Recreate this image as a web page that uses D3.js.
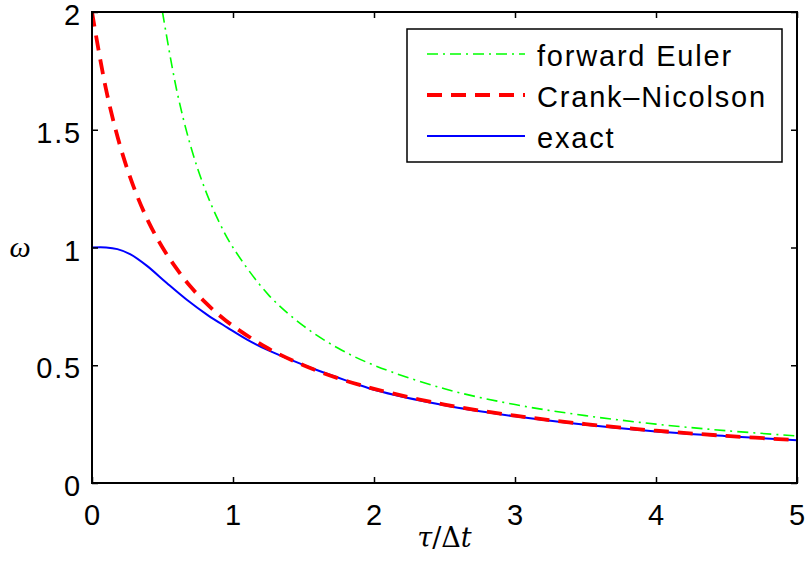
<!DOCTYPE html>
<html lang="en">

<head>
    <meta charset="UTF-8">
    <title>omega vs tau</title>
    <style>
        body { margin: 0; background: #fff; }
        svg { display: block; }
    </style>
</head>

<body>
    <script type='text/javascript' src='https://d3js.org/d3.v7.min.js'></script>
    <script>
        // values
        var tauEuler = [0.5, 0.6, 0.7, 0.8, 0.9, 1, 1.25, 1.5, 1.75, 2, 2.5, 3, 3.5, 4, 4.5, 5];
        var omegaEuler = [2, 1.67, 1.43, 1.25, 1.11, 1, 0.8, 0.667, 0.571, 0.5, 0.4, 0.333, 0.286, 0.25, 0.222, 0.2];

        var tauCN = [0, 0.1, 0.2, 0.3, 0.4, 0.5, 0.6, 0.7, 0.8, 0.9, 1, 1.25, 1.5, 1.75, 2, 2.5, 3, 3.5, 4, 4.5, 5];
        var omegaCN = [2, 1.67, 1.43, 1.25, 1.11, 1, 0.91, 0.833, 0.769, 0.714, 0.667, 0.571, 0.5, 0.444, 0.4, 0.333, 0.286, 0.25, 0.222, 0.2, 0.182];

        var tauExact = [0, 0.1, 0.18, 0.27, 0.39, 0.53, 0.67, 0.82, 0.96, 1.1, 1.24, 1.38, 1.57, 1.8, 2, 2.5, 3, 3.5, 4, 4.5, 5];
        var omegaExact = [1, 1, 0.993, 0.972, 0.922, 0.849, 0.779, 0.713, 0.66, 0.609, 0.566, 0.53, 0.485, 0.436, 0.396, 0.33, 0.283, 0.247, 0.219, 0.199, 0.182];

        var xTicks = [0, 1, 2, 3, 4, 5];
        var yTicks = [0, 0.5, 1, 1.5, 2];
        var yTickLabels = ["0", "0.5", "1", "1.5", "2"];

        var legendNames = ["forward Euler", "Crank\u2013Nicolson", "exact"];
        var legendColors = ["#00ff00", "#ff0000", "#0000ff"];
        var legendDash = ["11,5,2,5", "15,9", null];
        var legendWidth = [1.6, 3.8, 2];

        const W = 808, H = 573;
        const pLeft = 92, pRight = 797, pTop = 12, pBottom = 483;

        const svg = d3.select("body").append("svg")
            .attr("width", W)
            .attr("height", H);

        var x = d3.scaleLinear().domain([0, 5]).range([pLeft, pRight]);
        var y = d3.scaleLinear().domain([0, 2]).range([pBottom, pTop]);

        svg.append("clipPath").attr("id", "plot")
            .append("rect")
            .attr("x", pLeft).attr("y", pTop - 2)
            .attr("width", pRight - pLeft).attr("height", pBottom - pTop + 2);

        var line = d3.line()
            .x(function(d) { return x(d[0]); })
            .y(function(d) { return y(d[1]); })
            .curve(d3.curveCatmullRom.alpha(0.5));

        var series = [
            d3.zip(tauEuler, omegaEuler),
            d3.zip(tauCN, omegaCN),
            d3.zip(tauExact, omegaExact)
        ];

        // blue goes underneath the red dashes
        var order = [2, 0, 1];
        var g = svg.append("g").attr("clip-path", "url(#plot)");
        order.forEach(function(i) {
            g.append("path")
                .datum(series[i])
                .attr("fill", "none")
                .attr("stroke", legendColors[i])
                .attr("stroke-width", legendWidth[i])
                .attr("stroke-dasharray", legendDash[i])
                .attr("d", line);
        });

        // box + inward ticks on all sides
        var tickLen = 6;
        var axisFont = "'Liberation Sans', Arial, Helvetica, sans-serif";

        svg.append("g").attr("transform", "translate(0," + pBottom + ")")
            .call(d3.axisBottom(x).tickValues(xTicks).tickSize(-tickLen).tickFormat(""));
        svg.append("g").attr("transform", "translate(0," + pTop + ")")
            .call(d3.axisTop(x).tickValues(xTicks).tickSize(-tickLen).tickFormat(""));
        svg.append("g").attr("transform", "translate(" + pLeft + ",0)")
            .call(d3.axisLeft(y).tickValues(yTicks).tickSize(-tickLen).tickFormat(""));
        svg.append("g").attr("transform", "translate(" + pRight + ",0)")
            .call(d3.axisRight(y).tickValues(yTicks).tickSize(-tickLen).tickFormat(""));

        svg.selectAll(".domain").remove();
        svg.selectAll(".tick line").attr("stroke", "#000").attr("stroke-width", 1.5);

        svg.append("rect")
            .attr("x", pLeft).attr("y", pTop)
            .attr("width", pRight - pLeft).attr("height", pBottom - pTop)
            .attr("fill", "none")
            .attr("stroke", "#000")
            .attr("stroke-width", 2);

        // tick labels
        svg.selectAll(".xlab").data(xTicks).enter()
            .append("text")
            .attr("x", function(d) { return x(d) + 1; })
            .attr("y", 525)
            .attr("text-anchor", "middle")
            .style("font-family", axisFont)
            .style("font-size", "29px")
            .style("letter-spacing", "1.8px")
            .text(function(d) { return d; });

        svg.selectAll(".ylab").data(yTicks).enter()
            .append("text")
            .attr("x", 82)
            .attr("y", function(d) { return y(d) + 13; })
            .attr("text-anchor", "end")
            .style("font-family", axisFont)
            .style("font-size", "29px")
            .style("letter-spacing", "1.8px")
            .text(function(d, i) { return yTickLabels[i]; });

        // axis titles
        var xt = svg.append("text")
            .attr("x", (pLeft + pRight) / 2)
            .attr("y", 547)
            .attr("text-anchor", "middle")
            .style("font-family", "'DejaVu Serif', serif")
            .style("font-size", "27px");
        xt.append("tspan").style("font-style", "italic").text("\u03c4");
        xt.append("tspan").text("/\u0394");
        xt.append("tspan").style("font-style", "italic").text("t");

        svg.append("text")
            .attr("x", 20)
            .attr("y", 257)
            .attr("text-anchor", "middle")
            .style("font-family", "'Liberation Serif', serif")
            .style("font-style", "italic")
            .style("font-size", "30px")
            .text("\u03c9");

        // legend
        var lg = svg.append("g");
        lg.append("rect")
            .attr("x", 407).attr("y", 29)
            .attr("width", 375).attr("height", 133)
            .attr("fill", "#fff")
            .attr("stroke", "#000")
            .attr("stroke-width", 1.5);

        var rowY = [54, 95, 136];
        legendNames.forEach(function(name, i) {
            lg.append("line")
                .attr("x1", 427).attr("x2", 525)
                .attr("y1", rowY[i]).attr("y2", rowY[i])
                .attr("stroke", legendColors[i])
                .attr("stroke-width", legendWidth[i])
                .attr("stroke-dasharray", legendDash[i]);
            lg.append("text")
                .attr("x", 537)
                .attr("y", rowY[i] + 12)
                .style("font-family", axisFont)
                .style("font-size", "29px")
                .style("letter-spacing", "1.8px")
                .text(name);
        });
    </script>
</body>

</html>
